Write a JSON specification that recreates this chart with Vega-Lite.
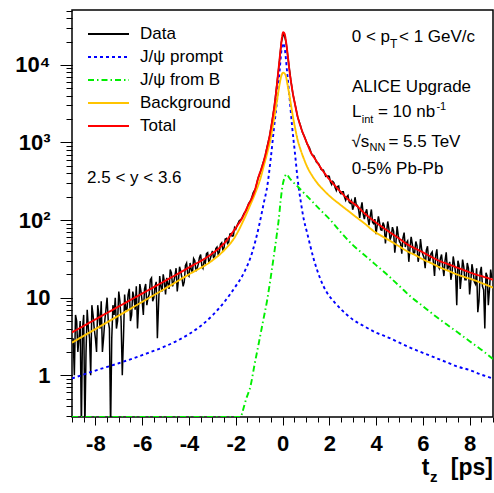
{
  "$schema": "https://vega.github.io/schema/vega-lite/v6.json",
  "width": 421,
  "height": 407,
  "autosize": {"type": "none"},
  "padding": {"left": 72, "top": 10, "right": 1, "bottom": 76},
  "background": "white",
  "config": {
    "view": {"stroke": "black", "strokeWidth": 1.5},
    "font": "Liberation Sans",
    "axis": {"grid": false, "domain": false, "tickColor": "black", "tickWidth": 1, "labelColor": "black", "labelFont": "Liberation Sans", "labelFontWeight": "bold", "labelFontSize": 22, "title": null}
  },
  "data": {"values": [{}]},
  "datasets": {
    "hist": [
      {"t": -8.95, "v": 3}, {"t": -8.9, "v": 1}, {"t": -8.85, "v": 6}, {"t": -8.8, "v": 5}, {"t": -8.75, "v": 2}, {"t": -8.7, "v": 3},
      {"t": -8.65, "v": 5}, {"t": -8.6, "v": 0.2}, {"t": -8.55, "v": 4}, {"t": -8.5, "v": 6}, {"t": -8.45, "v": 0.2}, {"t": -8.4, "v": 2},
      {"t": -8.35, "v": 7}, {"t": -8.3, "v": 4}, {"t": -8.25, "v": 3}, {"t": -8.2, "v": 1}, {"t": -8.15, "v": 8}, {"t": -8.1, "v": 6},
      {"t": -8.05, "v": 4}, {"t": -8.0, "v": 3}, {"t": -7.95, "v": 2}, {"t": -7.9, "v": 8}, {"t": -7.85, "v": 6}, {"t": -7.8, "v": 4},
      {"t": -7.75, "v": 9}, {"t": -7.7, "v": 2}, {"t": -7.65, "v": 3}, {"t": -7.6, "v": 5}, {"t": -7.55, "v": 7}, {"t": -7.5, "v": 10},
      {"t": -7.45, "v": 5}, {"t": -7.4, "v": 4}, {"t": -7.35, "v": 0.2}, {"t": -7.3, "v": 3}, {"t": -7.25, "v": 8}, {"t": -7.2, "v": 6},
      {"t": -7.15, "v": 10}, {"t": -7.1, "v": 4}, {"t": -7.05, "v": 5}, {"t": -7.0, "v": 12}, {"t": -6.95, "v": 9}, {"t": -6.9, "v": 5},
      {"t": -6.85, "v": 1}, {"t": -6.8, "v": 3}, {"t": -6.75, "v": 11}, {"t": -6.7, "v": 7}, {"t": -6.65, "v": 7}, {"t": -6.6, "v": 11},
      {"t": -6.55, "v": 13}, {"t": -6.5, "v": 5}, {"t": -6.45, "v": 6}, {"t": -6.4, "v": 12}, {"t": -6.35, "v": 10}, {"t": -6.3, "v": 7},
      {"t": -6.25, "v": 14}, {"t": -6.2, "v": 4}, {"t": -6.15, "v": 8}, {"t": -6.1, "v": 15}, {"t": -6.05, "v": 12}, {"t": -6.0, "v": 9},
      {"t": -5.95, "v": 6}, {"t": -5.9, "v": 13}, {"t": -5.85, "v": 15}, {"t": -5.8, "v": 8}, {"t": -5.75, "v": 10}, {"t": -5.7, "v": 11},
      {"t": -5.65, "v": 17}, {"t": -5.6, "v": 18}, {"t": -5.55, "v": 9}, {"t": -5.5, "v": 10}, {"t": -5.45, "v": 14}, {"t": -5.4, "v": 16},
      {"t": -5.35, "v": 3}, {"t": -5.3, "v": 8}, {"t": -5.25, "v": 19}, {"t": -5.2, "v": 14}, {"t": -5.15, "v": 12}, {"t": -5.1, "v": 20},
      {"t": -5.05, "v": 16}, {"t": -5.0, "v": 11}, {"t": -4.95, "v": 18}, {"t": -4.9, "v": 15}, {"t": -4.85, "v": 13}, {"t": -4.8, "v": 23},
      {"t": -4.75, "v": 21}, {"t": -4.7, "v": 14}, {"t": -4.65, "v": 16}, {"t": -4.6, "v": 19}, {"t": -4.55, "v": 24}, {"t": -4.5, "v": 12},
      {"t": -4.45, "v": 17}, {"t": -4.4, "v": 25}, {"t": -4.35, "v": 22}, {"t": -4.3, "v": 18}, {"t": -4.25, "v": 14}, {"t": -4.2, "v": 16},
      {"t": -4.15, "v": 26}, {"t": -4.1, "v": 28}, {"t": -4.05, "v": 20}, {"t": -4.0, "v": 19}, {"t": -3.95, "v": 28}, {"t": -3.9, "v": 23},
      {"t": -3.85, "v": 21}, {"t": -3.8, "v": 32}, {"t": -3.75, "v": 30}, {"t": -3.7, "v": 22}, {"t": -3.65, "v": 24}, {"t": -3.6, "v": 27},
      {"t": -3.55, "v": 33}, {"t": -3.5, "v": 36}, {"t": -3.45, "v": 26}, {"t": -3.4, "v": 24}, {"t": -3.35, "v": 30}, {"t": -3.3, "v": 28},
      {"t": -3.25, "v": 37}, {"t": -3.2, "v": 38}, {"t": -3.15, "v": 29}, {"t": -3.1, "v": 31}, {"t": -3.05, "v": 35}, {"t": -3.0, "v": 40},
      {"t": -2.95, "v": 33}, {"t": -2.9, "v": 34}, {"t": -2.85, "v": 43}, {"t": -2.8, "v": 45}, {"t": -2.75, "v": 36}, {"t": -2.7, "v": 39},
      {"t": -2.65, "v": 49}, {"t": -2.6, "v": 51}, {"t": -2.55, "v": 41}, {"t": -2.5, "v": 44}, {"t": -2.45, "v": 57}, {"t": -2.4, "v": 58},
      {"t": -2.35, "v": 50}, {"t": -2.3, "v": 52}, {"t": -2.25, "v": 66}, {"t": -2.2, "v": 67}, {"t": -2.15, "v": 62}, {"t": -2.1, "v": 63},
      {"t": -2.05, "v": 80}, {"t": -2.0, "v": 76},
      {"t": -1.95, "v": 84}, {"t": -1.85, "v": 98}, {"t": -1.75, "v": 104}, {"t": -1.65, "v": 121}, {"t": -1.55, "v": 133},
      {"t": -1.45, "v": 163}, {"t": -1.35, "v": 181}, {"t": -1.25, "v": 226}, {"t": -1.15, "v": 255}, {"t": -1.05, "v": 345},
      {"t": -0.95, "v": 410}, {"t": -0.85, "v": 525}, {"t": -0.75, "v": 650}, {"t": -0.65, "v": 905}, {"t": -0.55, "v": 1210},
      {"t": -0.45, "v": 1850}, {"t": -0.35, "v": 2900}, {"t": -0.25, "v": 5300}, {"t": -0.15, "v": 9800}, {"t": -0.05, "v": 19500},
      {"t": 0.05, "v": 26000}, {"t": 0.15, "v": 19800}, {"t": 0.25, "v": 11300}, {"t": 0.35, "v": 6500}, {"t": 0.45, "v": 4150},
      {"t": 0.55, "v": 2980}, {"t": 0.65, "v": 2120}, {"t": 0.75, "v": 1720}, {"t": 0.85, "v": 1360}, {"t": 0.95, "v": 1170},
      {"t": 1.05, "v": 960}, {"t": 1.15, "v": 860}, {"t": 1.25, "v": 700}, {"t": 1.35, "v": 670}, {"t": 1.45, "v": 560},
      {"t": 1.55, "v": 530}, {"t": 1.65, "v": 450}, {"t": 1.75, "v": 440}, {"t": 1.85, "v": 365}, {"t": 1.95, "v": 370},
      {"t": 2.0, "v": 367}, {"t": 2.05, "v": 310}, {"t": 2.1, "v": 287}, {"t": 2.15, "v": 315}, {"t": 2.2, "v": 302}, {"t": 2.25, "v": 262},
      {"t": 2.3, "v": 241}, {"t": 2.35, "v": 270}, {"t": 2.4, "v": 275}, {"t": 2.45, "v": 228}, {"t": 2.5, "v": 219}, {"t": 2.55, "v": 232},
      {"t": 2.6, "v": 232}, {"t": 2.65, "v": 198}, {"t": 2.7, "v": 180}, {"t": 2.75, "v": 200}, {"t": 2.8, "v": 208}, {"t": 2.85, "v": 170},
      {"t": 2.9, "v": 165}, {"t": 2.95, "v": 178}, {"t": 3.0, "v": 136}, {"t": 3.05, "v": 152}, {"t": 3.1, "v": 197}, {"t": 3.15, "v": 160},
      {"t": 3.2, "v": 155}, {"t": 3.25, "v": 138}, {"t": 3.3, "v": 107}, {"t": 3.35, "v": 140}, {"t": 3.4, "v": 169}, {"t": 3.45, "v": 120},
      {"t": 3.5, "v": 103}, {"t": 3.55, "v": 124}, {"t": 3.6, "v": 138}, {"t": 3.65, "v": 105}, {"t": 3.7, "v": 86}, {"t": 3.75, "v": 112},
      {"t": 3.8, "v": 137}, {"t": 3.85, "v": 94}, {"t": 3.9, "v": 90}, {"t": 3.95, "v": 103}, {"t": 4.0, "v": 66}, {"t": 4.05, "v": 86},
      {"t": 4.1, "v": 112}, {"t": 4.15, "v": 93}, {"t": 4.2, "v": 75}, {"t": 4.25, "v": 74}, {"t": 4.3, "v": 93}, {"t": 4.35, "v": 84},
      {"t": 4.4, "v": 50}, {"t": 4.45, "v": 70}, {"t": 4.5, "v": 96}, {"t": 4.55, "v": 77}, {"t": 4.6, "v": 56}, {"t": 4.65, "v": 62},
      {"t": 4.7, "v": 81}, {"t": 4.75, "v": 72}, {"t": 4.8, "v": 38}, {"t": 4.85, "v": 52}, {"t": 4.9, "v": 83}, {"t": 4.95, "v": 63},
      {"t": 5.0, "v": 53}, {"t": 5.05, "v": 50}, {"t": 5.1, "v": 37}, {"t": 5.15, "v": 59}, {"t": 5.2, "v": 69}, {"t": 5.25, "v": 45},
      {"t": 5.3, "v": 51}, {"t": 5.35, "v": 54}, {"t": 5.4, "v": 29}, {"t": 5.45, "v": 43}, {"t": 5.5, "v": 61}, {"t": 5.55, "v": 49},
      {"t": 5.6, "v": 37}, {"t": 5.65, "v": 38}, {"t": 5.7, "v": 53}, {"t": 5.75, "v": 47}, {"t": 5.8, "v": 29}, {"t": 5.85, "v": 36},
      {"t": 5.9, "v": 57}, {"t": 5.95, "v": 42}, {"t": 6.0, "v": 36}, {"t": 6.05, "v": 33}, {"t": 6.1, "v": 24}, {"t": 6.15, "v": 41},
      {"t": 6.2, "v": 46}, {"t": 6.25, "v": 30}, {"t": 6.3, "v": 30}, {"t": 6.35, "v": 37}, {"t": 6.4, "v": 39}, {"t": 6.45, "v": 29},
      {"t": 6.5, "v": 19}, {"t": 6.55, "v": 35}, {"t": 6.6, "v": 42}, {"t": 6.65, "v": 26}, {"t": 6.7, "v": 24}, {"t": 6.75, "v": 32},
      {"t": 6.8, "v": 36}, {"t": 6.85, "v": 25}, {"t": 6.9, "v": 19}, {"t": 6.95, "v": 30}, {"t": 7.0, "v": 38.5}, {"t": 7.05, "v": 23},
      {"t": 7.1, "v": 25}, {"t": 7.15, "v": 29}, {"t": 7.2, "v": 17}, {"t": 7.25, "v": 21}, {"t": 7.3, "v": 34}, {"t": 7.35, "v": 27},
      {"t": 7.4, "v": 21}, {"t": 7.45, "v": 8}, {"t": 7.5, "v": 30}, {"t": 7.55, "v": 26}, {"t": 7.6, "v": 13}, {"t": 7.65, "v": 19},
      {"t": 7.7, "v": 31}, {"t": 7.75, "v": 25}, {"t": 7.8, "v": 17}, {"t": 7.85, "v": 17}, {"t": 7.9, "v": 28}, {"t": 7.95, "v": 24},
      {"t": 8.0, "v": 11}, {"t": 8.05, "v": 16}, {"t": 8.1, "v": 27}, {"t": 8.15, "v": 22}, {"t": 8.2, "v": 16}, {"t": 8.25, "v": 15},
      {"t": 8.3, "v": 24}, {"t": 8.35, "v": 6.5}, {"t": 8.4, "v": 9}, {"t": 8.45, "v": 21}, {"t": 8.5, "v": 25}, {"t": 8.55, "v": 14},
      {"t": 8.6, "v": 12.6}, {"t": 8.65, "v": 4}, {"t": 8.7, "v": 21}, {"t": 8.75, "v": 19}, {"t": 8.8, "v": 8}, {"t": 8.85, "v": 13},
      {"t": 8.9, "v": 23}, {"t": 8.95, "v": 18}
    ],
    "curves": [
      {"s": "J/ψ prompt", "t": -9, "v": 0.91}, {"s": "J/ψ prompt", "t": -8, "v": 1.15}, {"s": "J/ψ prompt", "t": -7, "v": 1.43},
      {"s": "J/ψ prompt", "t": -6, "v": 1.82}, {"s": "J/ψ prompt", "t": -5, "v": 2.37}, {"s": "J/ψ prompt", "t": -4.5, "v": 2.79},
      {"s": "J/ψ prompt", "t": -4, "v": 3.39}, {"s": "J/ψ prompt", "t": -3.5, "v": 4.31}, {"s": "J/ψ prompt", "t": -3, "v": 5.89},
      {"s": "J/ψ prompt", "t": -2.5, "v": 8.71}, {"s": "J/ψ prompt", "t": -2, "v": 14.1}, {"s": "J/ψ prompt", "t": -1.65, "v": 20.9},
      {"s": "J/ψ prompt", "t": -1.3, "v": 38}, {"s": "J/ψ prompt", "t": -1, "v": 85}, {"s": "J/ψ prompt", "t": -0.8, "v": 166},
      {"s": "J/ψ prompt", "t": -0.65, "v": 275}, {"s": "J/ψ prompt", "t": -0.5, "v": 631}, {"s": "J/ψ prompt", "t": -0.37, "v": 1480},
      {"s": "J/ψ prompt", "t": -0.23, "v": 3550}, {"s": "J/ψ prompt", "t": -0.13, "v": 7940}, {"s": "J/ψ prompt", "t": -0.04, "v": 15850},
      {"s": "J/ψ prompt", "t": 0.01, "v": 19050}, {"s": "J/ψ prompt", "t": 0.1, "v": 15850}, {"s": "J/ψ prompt", "t": 0.2, "v": 7940},
      {"s": "J/ψ prompt", "t": 0.31, "v": 3550}, {"s": "J/ψ prompt", "t": 0.41, "v": 1620}, {"s": "J/ψ prompt", "t": 0.53, "v": 741},
      {"s": "J/ψ prompt", "t": 0.65, "v": 331}, {"s": "J/ψ prompt", "t": 0.78, "v": 174}, {"s": "J/ψ prompt", "t": 0.91, "v": 102},
      {"s": "J/ψ prompt", "t": 1.05, "v": 69}, {"s": "J/ψ prompt", "t": 1.34, "v": 31}, {"s": "J/ψ prompt", "t": 1.62, "v": 17.4},
      {"s": "J/ψ prompt", "t": 1.91, "v": 11.5}, {"s": "J/ψ prompt", "t": 2.2, "v": 8.9}, {"s": "J/ψ prompt", "t": 2.5, "v": 7.1},
      {"s": "J/ψ prompt", "t": 3, "v": 5.25}, {"s": "J/ψ prompt", "t": 3.5, "v": 4.27}, {"s": "J/ψ prompt", "t": 4, "v": 3.55},
      {"s": "J/ψ prompt", "t": 4.5, "v": 3.09}, {"s": "J/ψ prompt", "t": 5, "v": 2.63}, {"s": "J/ψ prompt", "t": 5.5, "v": 2.24},
      {"s": "J/ψ prompt", "t": 6, "v": 1.95}, {"s": "J/ψ prompt", "t": 6.5, "v": 1.7}, {"s": "J/ψ prompt", "t": 7, "v": 1.48},
      {"s": "J/ψ prompt", "t": 7.5, "v": 1.29}, {"s": "J/ψ prompt", "t": 8, "v": 1.17}, {"s": "J/ψ prompt", "t": 8.5, "v": 1.02},
      {"s": "J/ψ prompt", "t": 9, "v": 0.91},
      {"s": "J/ψ from B", "t": -9, "v": 0.29}, {"s": "J/ψ from B", "t": -1.78, "v": 0.29}, {"s": "J/ψ from B", "t": -1.72, "v": 0.33},
      {"s": "J/ψ from B", "t": -1.55, "v": 0.5}, {"s": "J/ψ from B", "t": -1.37, "v": 0.72}, {"s": "J/ψ from B", "t": -1.2, "v": 1.35},
      {"s": "J/ψ from B", "t": -1.01, "v": 2.63}, {"s": "J/ψ from B", "t": -0.83, "v": 5}, {"s": "J/ψ from B", "t": -0.65, "v": 9.5},
      {"s": "J/ψ from B", "t": -0.5, "v": 18.6}, {"s": "J/ψ from B", "t": -0.37, "v": 34.7}, {"s": "J/ψ from B", "t": -0.25, "v": 63},
      {"s": "J/ψ from B", "t": -0.16, "v": 102}, {"s": "J/ψ from B", "t": -0.08, "v": 178}, {"s": "J/ψ from B", "t": 0, "v": 275},
      {"s": "J/ψ from B", "t": 0.08, "v": 347}, {"s": "J/ψ from B", "t": 0.17, "v": 389}, {"s": "J/ψ from B", "t": 0.3, "v": 347},
      {"s": "J/ψ from B", "t": 0.45, "v": 309}, {"s": "J/ψ from B", "t": 0.63, "v": 275}, {"s": "J/ψ from B", "t": 0.85, "v": 234},
      {"s": "J/ψ from B", "t": 1.05, "v": 204}, {"s": "J/ψ from B", "t": 1.3, "v": 170}, {"s": "J/ψ from B", "t": 1.62, "v": 135},
      {"s": "J/ψ from B", "t": 2.05, "v": 100}, {"s": "J/ψ from B", "t": 2.47, "v": 71}, {"s": "J/ψ from B", "t": 3, "v": 48},
      {"s": "J/ψ from B", "t": 3.5, "v": 35.5}, {"s": "J/ψ from B", "t": 4, "v": 26.3}, {"s": "J/ψ from B", "t": 4.5, "v": 19.5},
      {"s": "J/ψ from B", "t": 5, "v": 14.1}, {"s": "J/ψ from B", "t": 5.5, "v": 10.2}, {"s": "J/ψ from B", "t": 6, "v": 7.8},
      {"s": "J/ψ from B", "t": 6.5, "v": 5.9}, {"s": "J/ψ from B", "t": 7, "v": 4.57}, {"s": "J/ψ from B", "t": 7.5, "v": 3.55},
      {"s": "J/ψ from B", "t": 8, "v": 2.75}, {"s": "J/ψ from B", "t": 8.5, "v": 2.14}, {"s": "J/ψ from B", "t": 9, "v": 1.62},
      {"s": "Background", "t": -9, "v": 2.63}, {"s": "Background", "t": -8, "v": 3.94}, {"s": "Background", "t": -7, "v": 5.89},
      {"s": "Background", "t": -6, "v": 8.81}, {"s": "Background", "t": -5, "v": 13.2}, {"s": "Background", "t": -4, "v": 20},
      {"s": "Background", "t": -3, "v": 30.2}, {"s": "Background", "t": -2.5, "v": 40.7}, {"s": "Background", "t": -2, "v": 63},
      {"s": "Background", "t": -1.65, "v": 102}, {"s": "Background", "t": -1.4, "v": 151}, {"s": "Background", "t": -1.15, "v": 229},
      {"s": "Background", "t": -0.95, "v": 339}, {"s": "Background", "t": -0.8, "v": 501}, {"s": "Background", "t": -0.65, "v": 741},
      {"s": "Background", "t": -0.51, "v": 1122}, {"s": "Background", "t": -0.4, "v": 1738}, {"s": "Background", "t": -0.3, "v": 2630},
      {"s": "Background", "t": -0.2, "v": 4070}, {"s": "Background", "t": -0.12, "v": 5750}, {"s": "Background", "t": -0.05, "v": 7240},
      {"s": "Background", "t": 0.03, "v": 7940}, {"s": "Background", "t": 0.13, "v": 7410}, {"s": "Background", "t": 0.23, "v": 5250},
      {"s": "Background", "t": 0.3, "v": 3980}, {"s": "Background", "t": 0.37, "v": 2950}, {"s": "Background", "t": 0.46, "v": 2040},
      {"s": "Background", "t": 0.55, "v": 1480}, {"s": "Background", "t": 0.65, "v": 1070}, {"s": "Background", "t": 0.77, "v": 813},
      {"s": "Background", "t": 0.9, "v": 631}, {"s": "Background", "t": 1.05, "v": 490}, {"s": "Background", "t": 1.25, "v": 380},
      {"s": "Background", "t": 1.48, "v": 302}, {"s": "Background", "t": 1.75, "v": 245}, {"s": "Background", "t": 2.05, "v": 200},
      {"s": "Background", "t": 2.47, "v": 158}, {"s": "Background", "t": 2.76, "v": 135}, {"s": "Background", "t": 3.19, "v": 107},
      {"s": "Background", "t": 3.5, "v": 91}, {"s": "Background", "t": 3.9, "v": 72}, {"s": "Background", "t": 4.25, "v": 62},
      {"s": "Background", "t": 4.61, "v": 53.7}, {"s": "Background", "t": 5, "v": 45.7}, {"s": "Background", "t": 5.32, "v": 39.8},
      {"s": "Background", "t": 5.7, "v": 35.1}, {"s": "Background", "t": 6.03, "v": 30.9}, {"s": "Background", "t": 6.4, "v": 27.5},
      {"s": "Background", "t": 6.74, "v": 24.5}, {"s": "Background", "t": 7.1, "v": 22.1}, {"s": "Background", "t": 7.45, "v": 20},
      {"s": "Background", "t": 7.8, "v": 18.4}, {"s": "Background", "t": 8.16, "v": 17}, {"s": "Background", "t": 8.6, "v": 15.1},
      {"s": "Background", "t": 9, "v": 13.5},
      {"s": "Total", "t": -9, "v": 3.57}, {"s": "Total", "t": -8, "v": 5.25}, {"s": "Total", "t": -7, "v": 7.71},
      {"s": "Total", "t": -6, "v": 11.3}, {"s": "Total", "t": -5, "v": 16.6}, {"s": "Total", "t": -4, "v": 24.5},
      {"s": "Total", "t": -3, "v": 37.2}, {"s": "Total", "t": -2.5, "v": 50.1}, {"s": "Total", "t": -2, "v": 79.4},
      {"s": "Total", "t": -1.72, "v": 107}, {"s": "Total", "t": -1.5, "v": 148}, {"s": "Total", "t": -1.22, "v": 224},
      {"s": "Total", "t": -1, "v": 380}, {"s": "Total", "t": -0.87, "v": 490}, {"s": "Total", "t": -0.7, "v": 759},
      {"s": "Total", "t": -0.58, "v": 1096}, {"s": "Total", "t": -0.45, "v": 1820}, {"s": "Total", "t": -0.37, "v": 2630},
      {"s": "Total", "t": -0.3, "v": 3800}, {"s": "Total", "t": -0.23, "v": 5890}, {"s": "Total", "t": -0.15, "v": 10000},
      {"s": "Total", "t": -0.08, "v": 15850}, {"s": "Total", "t": -0.02, "v": 22900}, {"s": "Total", "t": 0.03, "v": 26300},
      {"s": "Total", "t": 0.09, "v": 25100}, {"s": "Total", "t": 0.16, "v": 19050}, {"s": "Total", "t": 0.23, "v": 12900},
      {"s": "Total", "t": 0.3, "v": 8320}, {"s": "Total", "t": 0.37, "v": 5890}, {"s": "Total", "t": 0.45, "v": 4170},
      {"s": "Total", "t": 0.55, "v": 2950}, {"s": "Total", "t": 0.65, "v": 2140}, {"s": "Total", "t": 0.77, "v": 1620},
      {"s": "Total", "t": 0.9, "v": 1260}, {"s": "Total", "t": 1.05, "v": 977}, {"s": "Total", "t": 1.2, "v": 759},
      {"s": "Total", "t": 1.41, "v": 603}, {"s": "Total", "t": 1.6, "v": 490}, {"s": "Total", "t": 1.91, "v": 363},
      {"s": "Total", "t": 2.2, "v": 288}, {"s": "Total", "t": 2.47, "v": 234}, {"s": "Total", "t": 2.8, "v": 186},
      {"s": "Total", "t": 3.19, "v": 151}, {"s": "Total", "t": 3.5, "v": 123}, {"s": "Total", "t": 3.9, "v": 98},
      {"s": "Total", "t": 4.25, "v": 82}, {"s": "Total", "t": 4.61, "v": 69}, {"s": "Total", "t": 5, "v": 57.5},
      {"s": "Total", "t": 5.32, "v": 49}, {"s": "Total", "t": 5.7, "v": 42.7}, {"s": "Total", "t": 6.03, "v": 38},
      {"s": "Total", "t": 6.4, "v": 33.1}, {"s": "Total", "t": 6.74, "v": 29.5}, {"s": "Total", "t": 7.1, "v": 26.9},
      {"s": "Total", "t": 7.45, "v": 24.5}, {"s": "Total", "t": 7.8, "v": 22.4}, {"s": "Total", "t": 8.16, "v": 20.4},
      {"s": "Total", "t": 8.6, "v": 18.6}, {"s": "Total", "t": 9, "v": 17}
    ]
  },
  "resolve": {"axis": {"x": "independent", "y": "independent"}},
  "layer": [
    {
      "data": {"name": "hist"},
      "mark": {"type": "line", "strokeWidth": 1.5, "clip": true},
      "encoding": {
        "x": {"field": "t", "type": "quantitative", "scale": {"domain": [-9, 9]},
          "axis": {"orient": "bottom", "values": [-9,-8.5,-8,-7.5,-7,-6.5,-6,-5.5,-5,-4.5,-4,-3.5,-3,-2.5,-2,-1.5,-1,-0.5,0,0.5,1,1.5,2,2.5,3,3.5,4,4.5,5,5.5,6,6.5,7,7.5,8,8.5,9], "tickSize": 5, "labels": false}},
        "y": {"field": "v", "type": "quantitative", "scale": {"type": "log", "domain": [0.29, 51000]},
          "axis": {"orient": "left", "values": [0.3,0.4,0.5,0.6,0.7,0.8,0.9,1,2,3,4,5,6,7,8,9,10,20,30,40,50,60,70,80,90,100,200,300,400,500,600,700,800,900,1000,2000,3000,4000,5000,6000,7000,8000,9000,10000,20000,30000,40000,50000], "tickSize": 6, "labels": false}},
        "color": {"datum": "Data", "type": "nominal",
          "scale": {"domain": ["Data", "J/ψ prompt", "J/ψ from B", "Background", "Total"], "range": ["#000000", "#0000ff", "#00ee00", "#ffc400", "#ff0000"]},
          "legend": {"orient": "none", "legendX": 15, "legendY": 12.6, "title": null, "symbolType": "stroke", "symbolSize": 1681, "symbolStrokeWidth": 2, "labelFontSize": 17, "labelFont": "Liberation Sans", "labelOffset": 10, "clipHeight": 22.75, "rowPadding": 0, "padding": 0, "labelColor": "black", "labelLimit": 300}},
        "strokeDash": {"datum": "Data", "type": "nominal",
          "scale": {"domain": ["Data", "J/ψ prompt", "J/ψ from B", "Background", "Total"], "range": [[1, 0], [3, 3], [6, 3, 1.5, 3], [1, 0], [1, 0]]},
          "legend": {"orient": "none", "legendX": 15, "legendY": 12.6, "title": null, "symbolType": "stroke", "symbolSize": 1681, "symbolStrokeWidth": 2, "labelFontSize": 17, "labelFont": "Liberation Sans", "labelOffset": 10, "clipHeight": 22.75, "rowPadding": 0, "padding": 0, "labelColor": "black", "labelLimit": 300}}
      }
    },
    {
      "data": {"name": "curves"},
      "mark": {"type": "line", "strokeWidth": 1.9, "clip": true, "interpolate": "monotone"},
      "encoding": {
        "x": {"field": "t", "type": "quantitative", "scale": {"domain": [-9, 9]},
          "axis": {"orient": "bottom", "values": [-8, -6, -4, -2, 0, 2, 4, 6, 8], "tickSize": 8, "labelPadding": 8, "labelExpr": "'' + datum.value"}},
        "y": {"field": "v", "type": "quantitative", "scale": {"type": "log", "domain": [0.29, 51000]},
          "axis": {"orient": "left", "values": [1, 10, 100, 1000, 10000], "tickSize": 12, "labelPadding": 10, "labelExpr": "datum.value == 1 ? '1' : datum.value == 10 ? '10' : datum.value == 100 ? '10²' : datum.value == 1000 ? '10³' : '10⁴'"}},
        "color": {"field": "s", "type": "nominal",
          "scale": {"domain": ["Data", "J/ψ prompt", "J/ψ from B", "Background", "Total"], "range": ["#000000", "#0000ff", "#00ee00", "#ffc400", "#ff0000"]},
          "legend": {"orient": "none", "legendX": 15, "legendY": 12.6, "title": null, "symbolType": "stroke", "symbolSize": 1681, "symbolStrokeWidth": 2, "labelFontSize": 17, "labelFont": "Liberation Sans", "labelOffset": 10, "clipHeight": 22.75, "rowPadding": 0, "padding": 0, "labelColor": "black", "labelLimit": 300}},
        "strokeDash": {"field": "s", "type": "nominal",
          "scale": {"domain": ["Data", "J/ψ prompt", "J/ψ from B", "Background", "Total"], "range": [[1, 0], [3, 3], [6, 3, 1.5, 3], [1, 0], [1, 0]]},
          "legend": {"orient": "none", "legendX": 15, "legendY": 12.6, "title": null, "symbolType": "stroke", "symbolSize": 1681, "symbolStrokeWidth": 2, "labelFontSize": 17, "labelFont": "Liberation Sans", "labelOffset": 10, "clipHeight": 22.75, "rowPadding": 0, "padding": 0, "labelColor": "black", "labelLimit": 300}}
      }
    },
    {"mark": {"type": "text", "text": "2.5 < y < 3.6", "align": "left", "baseline": "alphabetic", "fontSize": 17, "font": "Liberation Sans", "color": "black"},
     "encoding": {"x": {"datum": -8.356, "type": "quantitative", "scale": {"domain": [-9, 9]}, "axis": null}, "y": {"datum": 299, "type": "quantitative", "scale": {"type": "log", "domain": [0.29, 51000]}, "axis": null}}},
    {"mark": {"type": "text", "text": "0 < p", "align": "left", "baseline": "alphabetic", "fontSize": 17, "font": "Liberation Sans", "color": "black"},
     "encoding": {"x": {"datum": 2.959, "type": "quantitative", "scale": {"domain": [-9, 9]}, "axis": null}, "y": {"datum": 19700, "type": "quantitative", "scale": {"type": "log", "domain": [0.29, 51000]}, "axis": null}}},
    {"mark": {"type": "text", "text": "T", "align": "left", "baseline": "alphabetic", "fontSize": 12, "font": "Liberation Sans", "color": "black"},
     "encoding": {"x": {"datum": 4.6, "type": "quantitative", "scale": {"domain": [-9, 9]}, "axis": null}, "y": {"datum": 16500, "type": "quantitative", "scale": {"type": "log", "domain": [0.29, 51000]}, "axis": null}}},
    {"mark": {"type": "text", "text": "< 1 GeV/c", "align": "left", "baseline": "alphabetic", "fontSize": 17, "font": "Liberation Sans", "color": "black"},
     "encoding": {"x": {"datum": 4.98, "type": "quantitative", "scale": {"domain": [-9, 9]}, "axis": null}, "y": {"datum": 19700, "type": "quantitative", "scale": {"type": "log", "domain": [0.29, 51000]}, "axis": null}}},
    {"mark": {"type": "text", "text": "ALICE Upgrade", "align": "left", "baseline": "alphabetic", "fontSize": 17, "font": "Liberation Sans", "color": "black"},
     "encoding": {"x": {"datum": 2.972, "type": "quantitative", "scale": {"domain": [-9, 9]}, "axis": null}, "y": {"datum": 4430, "type": "quantitative", "scale": {"type": "log", "domain": [0.29, 51000]}, "axis": null}}},
    {"mark": {"type": "text", "text": "L", "align": "left", "baseline": "alphabetic", "fontSize": 17, "font": "Liberation Sans", "color": "black"},
     "encoding": {"x": {"datum": 2.972, "type": "quantitative", "scale": {"domain": [-9, 9]}, "axis": null}, "y": {"datum": 2110, "type": "quantitative", "scale": {"type": "log", "domain": [0.29, 51000]}, "axis": null}}},
    {"mark": {"type": "text", "text": "int", "align": "left", "baseline": "alphabetic", "fontSize": 11, "font": "Liberation Sans", "color": "black"},
     "encoding": {"x": {"datum": 3.39, "type": "quantitative", "scale": {"domain": [-9, 9]}, "axis": null}, "y": {"datum": 1795, "type": "quantitative", "scale": {"type": "log", "domain": [0.29, 51000]}, "axis": null}}},
    {"mark": {"type": "text", "text": "= 10 nb", "align": "left", "baseline": "alphabetic", "fontSize": 17, "font": "Liberation Sans", "color": "black"},
     "encoding": {"x": {"datum": 4.082, "type": "quantitative", "scale": {"domain": [-9, 9]}, "axis": null}, "y": {"datum": 2110, "type": "quantitative", "scale": {"type": "log", "domain": [0.29, 51000]}, "axis": null}}},
    {"mark": {"type": "text", "text": "-1", "align": "left", "baseline": "alphabetic", "fontSize": 11, "font": "Liberation Sans", "color": "black"},
     "encoding": {"x": {"datum": 6.58, "type": "quantitative", "scale": {"domain": [-9, 9]}, "axis": null}, "y": {"datum": 2620, "type": "quantitative", "scale": {"type": "log", "domain": [0.29, 51000]}, "axis": null}}},
    {"mark": {"type": "text", "text": "√s", "align": "left", "baseline": "alphabetic", "fontSize": 17, "font": "Liberation Sans", "color": "black"},
     "encoding": {"x": {"datum": 2.946, "type": "quantitative", "scale": {"domain": [-9, 9]}, "axis": null}, "y": {"datum": 881, "type": "quantitative", "scale": {"type": "log", "domain": [0.29, 51000]}, "axis": null}}},
    {"mark": {"type": "text", "text": "NN", "align": "left", "baseline": "alphabetic", "fontSize": 11, "font": "Liberation Sans", "color": "black"},
     "encoding": {"x": {"datum": 3.72, "type": "quantitative", "scale": {"domain": [-9, 9]}, "axis": null}, "y": {"datum": 781, "type": "quantitative", "scale": {"type": "log", "domain": [0.29, 51000]}, "axis": null}}},
    {"mark": {"type": "text", "text": "= 5.5 TeV", "align": "left", "baseline": "alphabetic", "fontSize": 17, "font": "Liberation Sans", "color": "black"},
     "encoding": {"x": {"datum": 4.53, "type": "quantitative", "scale": {"domain": [-9, 9]}, "axis": null}, "y": {"datum": 881, "type": "quantitative", "scale": {"type": "log", "domain": [0.29, 51000]}, "axis": null}}},
    {"mark": {"type": "text", "text": "0-5% Pb-Pb", "align": "left", "baseline": "alphabetic", "fontSize": 17, "font": "Liberation Sans", "color": "black"},
     "encoding": {"x": {"datum": 2.959, "type": "quantitative", "scale": {"domain": [-9, 9]}, "axis": null}, "y": {"datum": 392, "type": "quantitative", "scale": {"type": "log", "domain": [0.29, 51000]}, "axis": null}}},
    {"mark": {"type": "text", "text": "t", "align": "left", "baseline": "alphabetic", "fontSize": 23, "fontWeight": "bold", "font": "Liberation Sans", "color": "black"},
     "encoding": {"x": {"datum": 5.95, "type": "quantitative", "scale": {"domain": [-9, 9]}, "axis": null}, "y": {"datum": 0.0514, "type": "quantitative", "scale": {"type": "log", "domain": [0.29, 51000]}, "axis": null}}},
    {"mark": {"type": "text", "text": "z", "align": "left", "baseline": "alphabetic", "fontSize": 15, "fontWeight": "bold", "font": "Liberation Sans", "color": "black"},
     "encoding": {"x": {"datum": 6.31, "type": "quantitative", "scale": {"domain": [-9, 9]}, "axis": null}, "y": {"datum": 0.0418, "type": "quantitative", "scale": {"type": "log", "domain": [0.29, 51000]}, "axis": null}}},
    {"mark": {"type": "text", "text": "[ps]", "align": "right", "baseline": "alphabetic", "fontSize": 23, "fontWeight": "bold", "font": "Liberation Sans", "color": "black"},
     "encoding": {"x": {"datum": 9, "type": "quantitative", "scale": {"domain": [-9, 9]}, "axis": null}, "y": {"datum": 0.0514, "type": "quantitative", "scale": {"type": "log", "domain": [0.29, 51000]}, "axis": null}}}
  ]
}
